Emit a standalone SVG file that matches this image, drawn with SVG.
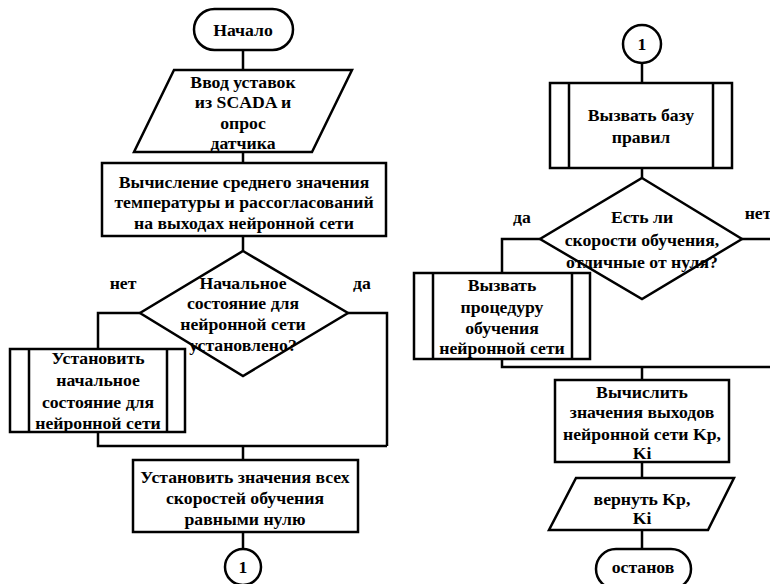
<svg xmlns="http://www.w3.org/2000/svg" width="770" height="584" viewBox="0 0 770 584">
<style>
.s{fill:#fff;stroke:#000;stroke-width:2.5}
.l{fill:none;stroke:#000;stroke-width:2.5}
text{font-family:'Liberation Serif','Times New Roman',serif;font-weight:700;font-size:17.7px;text-anchor:middle;fill:#000}
</style>
<rect width="770" height="584" fill="#fff"/>
<g id="connectors">
<path class="l" d="M243 50V70M243 152V163M243 236V251M140 313H98V349M348 313H387V446M98 432V446H387M243 446V460M243 532V549"/>
<path class="l" d="M642 63V83M642 168V178M540 239H502V273M742 239H772M502 359V367H772M642 367V380M642 462V478M642 530V549"/>
</g>
<g id="start"><rect class="s" x="194" y="9" width="99" height="41" rx="20.5"/><text x="243" y="36">Начало</text></g>
<g id="input"><polygon class="s" points="174,70 352,70 312,152 134,152"/>
<text x="243" y="88">Ввод уставок</text><text x="243" y="108">из SCADA и</text><text x="243" y="129">опрос</text><text x="243" y="149">датчика</text></g>
<g id="calc"><rect class="s" x="102" y="163" width="284" height="73"/>
<text x="244" y="188">Вычисление среднего значения</text><text x="244" y="208">температуры и рассогласований</text><text x="244" y="229">на выходах нейронной сети</text></g>
<g id="cond1"><polygon class="s" points="243,251 348,313 243,376 140,313"/>
<text x="243" y="289">Начальное</text><text x="243" y="309">состояние для</text><text x="243" y="330">нейронной сети</text><text x="243" y="351">установлено?</text></g>
<text x="123" y="289">нет</text><text x="362" y="289">да</text>
<g id="setinit"><rect class="s" x="10" y="349" width="175" height="83"/><path class="l" d="M29 349V432M167 349V432"/>
<text x="98" y="364">Установить</text><text x="98" y="386">начальное</text><text x="98" y="408">состояние для</text><text x="98" y="429">нейронной сети</text></g>
<g id="setzero"><rect class="s" x="133" y="460" width="225" height="72"/>
<text x="245" y="483">Установить значения всех</text><text x="245" y="504">скоростей обучения</text><text x="245" y="525">равными нулю</text></g>
<g id="conn1a"><circle class="s" cx="243" cy="567" r="18"/><text x="243" y="573">1</text></g>
<g id="conn1b"><circle class="s" cx="642" cy="44" r="19"/><text x="642" y="50">1</text></g>
<g id="rules"><rect class="s" x="550" y="83" width="182" height="85"/><path class="l" d="M569 83V168M713 83V168"/>
<text x="641" y="121">Вызвать базу</text><text x="641" y="143">правил</text></g>
<g id="cond2"><polygon class="s" points="642,178 742,239 642,299 540,239"/>
<text x="642" y="223">Есть ли</text><text x="642" y="246">скорости обучения,</text><text x="642" y="268">отличные от нуля?</text></g>
<text x="522" y="223">да</text><text x="758" y="219">нет</text>
<g id="train"><rect class="s" x="414" y="273" width="176" height="86"/><path class="l" d="M433 273V359M572 273V359"/>
<text x="502" y="291">Вызвать</text><text x="502" y="313">процедуру</text><text x="502" y="334">обучения</text><text x="502" y="354">нейронной сети</text></g>
<g id="outputs"><rect class="s" x="555" y="380" width="174" height="82"/>
<text x="642" y="398">Вычислить</text><text x="642" y="418">значения выходов</text><text x="642" y="440">нейронной сети Kp,</text><text x="642" y="459">Ki</text></g>
<g id="ret"><polygon class="s" points="576,478 734,478 708,530 549,530"/>
<text x="642" y="505">вернуть Kp,</text><text x="642" y="524">Ki</text></g>
<g id="stop"><rect class="s" x="596" y="549" width="95" height="40" rx="20"/><text x="643" y="573">останов</text></g>
</svg>
